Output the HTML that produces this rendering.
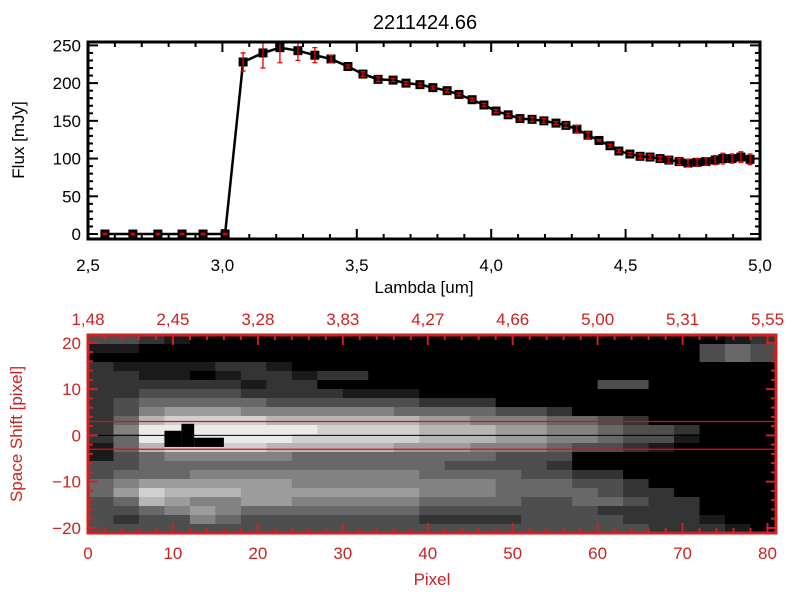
<!DOCTYPE html>
<html><head><meta charset="utf-8"><style>
body{margin:0;background:#fff;}
svg{display:block;font-family:"Liberation Sans",sans-serif;}
</style></head><body>
<svg id="c" width="800" height="600"></svg>
<script>
// ---- Spectrum data ----
const lambdaPix=[105,133,158,182,203,225,243,263,280,298,315,331,348,363,378,393,406,420,433,447,459,472,484,496,508,520,532,544,556,566,577,588,599,610,619,630,640,650,660,669,679,688,697,706,715,723,732,741,750];
const lambdas=lambdaPix.map(p=>+(2.5+(p-88)/268.8).toFixed(3));
const flux=[0,0,0,0,0,0,228,240,247,243,237,232,222,212,205,204,200,198,194,190,185,178,171,163,158,153,152,150,147,144,139,131,124,117,110,106,103,102,100,98,96,94,95,96,98,100,100,102,99];
const fluxErr=[1,1,1,1,1,1,12,20,20,13,10,5,2,3,3,2,2,2,2,2,2,2,2,2,2,2,3,3,2,3,5,4,1,2,2,2,3,3,3,4,4,5,5,5,6,7,6,7,7];
const xTicks=[2.5,3.0,3.5,4.0,4.5,5.0];
const yTicks=[0,50,100,150,200,250];
// ---- Spectral image data ----
const topLabels=["1.48","2.45","3.28","3.83","4.27","4.66","5.00","5.31","5.55"];
const pixTicks=[0,10,20,30,40,50,60,70,80];
const shiftTicks=[-20,-10,0,10,20];
const imgRows=[
"332100000000000000000000012",
"110000000000000000000000343",
"000000000000000000000000343",
"211112210000000000000000000",
"221101221220000000000000000",
"222222122000000000003300000",
"223333222211100000000000000",
"234444433333322200000000000",
"235666555555444433200000000",
"247888877777766555443200000",
"259999999888877766554332000",
"249999998888877766554331000",
"147888877777666555433210000",
"134555554444444433300000000",
"334444444444443333200000000",
"344455555555544443322000000",
"456666665555555544433200000",
"468777666666655544443220000",
"347655665555544443344322000",
"334565444444433333332222000",
"323354333333322223333222100",
"333333333333333333333322210"];
const blobCells=[[9,11,-2.5,1],[11,12.5,-2.5,2.5],[12.5,16,-2.5,-0.5]];
const extractLines=[3,-3];

const NS="http://www.w3.org/2000/svg";
const svg=document.getElementById('c');
function el(t,a,p){const e=document.createElementNS(NS,t);for(const k in a)e.setAttribute(k,a[k]);(p||svg).appendChild(e);return e;}
function txt(s,a,p){const e=el('text',a,p);e.textContent=s;return e;}

// ---- top plot ----
const X0=88,X1=760,Y0=42,Y1=239,ymin=-6.6,ymax=254.5;
const sx=v=>X0+(v-2.5)/2.5*(X1-X0);
const sy=v=>Y1-(v-ymin)/(ymax-ymin)*(Y1-Y0);
const tg=el('g',{});

const t=txt("2211424.66",{x:425,y:29,'font-size':20,'text-anchor':'middle'});

for(let v=2.5;v<=5.0001;v+=0.1){const x=sx(v);const maj=Math.abs(v*2-Math.round(v*2))<1e-6;const L=maj?10:5;
 el('line',{x1:x,y1:Y1,x2:x,y2:Y1-L,stroke:'#000','stroke-width':2},tg);el('line',{x1:x,y1:Y0,x2:x,y2:Y0+L,stroke:'#000','stroke-width':2},tg);}
for(let v=0;v<=250;v+=10){const y=sy(v);const L=v%50==0?10:5;
 el('line',{x1:X0,y1:y,x2:X0+L,y2:y,stroke:'#000','stroke-width':2},tg);el('line',{x1:X1,y1:y,x2:X1-L,y2:y,stroke:'#000','stroke-width':2},tg);}
xTicks.forEach(v=>{const e=txt(v.toFixed(1).replace('.',','),{x:sx(v),y:271,'font-size':17,'text-anchor':'middle'},tg);});
yTicks.forEach(v=>{const e=txt(String(v),{x:81,y:sy(v)+6,'font-size':17,'text-anchor':'end'},tg);});
let e=txt("Lambda [um]",{x:424,y:293,'font-size':17,'text-anchor':'middle'},tg);
e=txt("Flux [mJy]",{x:0,y:0,'font-size':17,'text-anchor':'middle',transform:'translate(24,140) rotate(-90)'},tg);
const line=el('polyline',{points:lambdas.map((l,i)=>sx(l)+','+sy(flux[i])).join(' '),fill:'none',stroke:'#000','stroke-width':2.5},tg);

lambdas.forEach((l,i)=>{const x=sx(l),y=sy(flux[i]);
 const m=el('rect',{x:x-4.5,y:y-4.5,width:9,height:9,fill:'#000'},tg);
 const ya=Math.max(Y0,sy(flux[i]+fluxErr[i])),yb=sy(flux[i]-fluxErr[i]);
 const eb=el('path',{d:`M${x},${ya}V${yb}M${x-2.5},${ya}H${x+2.5}M${x-2.5},${yb}H${x+2.5}`,stroke:'#e00',fill:'none','stroke-width':1.3},tg);
 });
el('rect',{x:X0,y:Y0,width:X1-X0,height:Y1-Y0,fill:'none',stroke:'#000','stroke-width':3},tg);

// ---- bottom image ----
const R='#cc2222';
const BX0=88,BX1=776,BY0=335,BY1=533,pmin=0,pmax=81,smin=-21.1,smax=21.7;
const px=v=>BX0+(v-pmin)/(pmax-pmin)*(BX1-BX0);
const py=v=>BY1-(v-smin)/(smax-smin)*(BY1-BY0);
const bg=el('g',{});

const nr=imgRows.length,nc=imgRows[0].length,cw=(pmax-pmin)/nc,rh=(smax-smin)/nr;
imgRows.forEach((row,r)=>{for(let c=0;c<nc;c++){const d=+row[c];const g=Math.round(d*26);
 const x=px(pmin+c*cw),y=py(smax-r*rh);
 const cell=el('rect',{x:x,y:y,width:px(pmin+(c+1)*cw)-x+0.5,height:py(smax-(r+1)*rh)-y+0.5,fill:`rgb(${g},${g},${g})`},bg);
 }});
blobCells.forEach(b=>{const r=el('rect',{x:px(b[0]),y:py(b[3]),width:px(b[1])-px(b[0]),height:py(b[2])-py(b[3]),fill:'#000'},bg);
 });
extractLines.forEach(v=>{const l=el('line',{x1:BX0,x2:BX1,y1:py(v),y2:py(v),stroke:'#f00','stroke-width':1.3},bg);});
e=el('line',{x1:BX0,x2:BX1,y1:py(0),y2:py(0),stroke:'#000','stroke-width':1},bg);
for(let v=0;v<=81;v+=2){const x=px(v);const L=v%10==0?10:5;
 el('line',{x1:x,y1:BY1,x2:x,y2:BY1-L,stroke:R,'stroke-width':2},bg);el('line',{x1:x,y1:BY0,x2:x,y2:BY0+L,stroke:R,'stroke-width':2},bg);}
for(let v=-20;v<=20;v+=2){const y=py(v);const L=v%10==0?10:5;
 el('line',{x1:BX0,y1:y,x2:BX0+L,y2:y,stroke:R,'stroke-width':2},bg);el('line',{x1:BX1,y1:y,x2:BX1-L,y2:y,stroke:R,'stroke-width':2},bg);}
el('rect',{x:BX0,y:BY0,width:BX1-BX0,height:BY1-BY0,fill:'none',stroke:R,'stroke-width':3},bg);
pixTicks.forEach((v,i)=>{let a=txt(String(v),{x:px(v),y:559,'font-size':17,fill:R,'text-anchor':'middle'},bg);
 a=txt(topLabels[i].replace('.',','),{x:px(v),y:325,'font-size':17,fill:R,'text-anchor':'middle'},bg);});
shiftTicks.forEach(v=>{const a=txt(String(v).replace('-','\u2212'),{x:81,y:py(v)+6,'font-size':17,fill:R,'text-anchor':'end'},bg);});
e=txt("Pixel",{x:432,y:585,'font-size':17,fill:R,'text-anchor':'middle'},bg);
e=txt("Space Shift [pixel]",{x:0,y:0,'font-size':17,fill:R,'text-anchor':'middle',transform:'translate(22,434) rotate(-90)'},bg);
</script>
</body></html>
